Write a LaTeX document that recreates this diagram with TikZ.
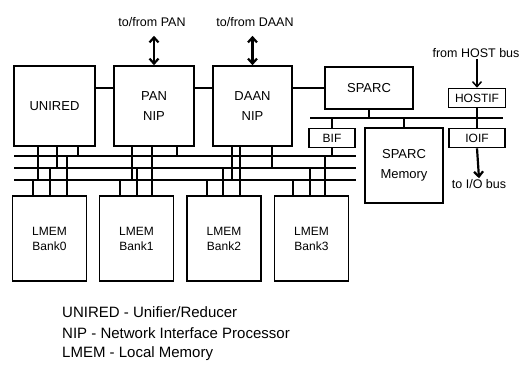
\documentclass[tikz,border=0pt]{standalone}
\usepackage{fontspec}
\setmainfont{Liberation Sans}
\usetikzlibrary{arrows.meta,positioning}

\begin{document}
\begin{tikzpicture}[x=1pt,y=-1pt,>={Straight Barb[length=5pt,width=9pt]}]
\tikzset{box/.style={draw,line width=1.6pt,inner sep=0pt,align=center,font=\fontsize{13}{20}\selectfont}, bank/.style={box,minimum width=74pt,minimum height=85pt,font=\fontsize{12}{15}\selectfont}, small/.style={box,minimum height=19pt,font=\fontsize{12}{14}\selectfont}, bus/.style={line width=2.8pt}, drop/.style={line width=1.5pt}, link/.style={line width=2.2pt}, lbl/.style={inner sep=1pt,font=\fontsize{12.5}{14}\selectfont}, legend/.style={inner sep=0pt,anchor=west,font=\fontsize{15}{17}\selectfont}}
\useasboundingbox (0,0) rectangle (521,365);
\node[box,minimum width=81pt,minimum height=80pt] (unired) at (54.5,106) {UNIRED};
\node[box,minimum width=80pt,minimum height=80pt] (pannip) at (154,106) {PAN\\NIP};
\node[box,minimum width=79pt,minimum height=80pt] (daannip) at (252.5,106) {DAAN\\NIP};
\node[box,minimum width=88pt,minimum height=42pt] (sparc) at (369,88) {SPARC};
\node[small,minimum width=57pt] (hostif) at (477,98) {HOSTIF};
\node[small,minimum width=46pt] (bif) at (332,138) {BIF};
\node[small,minimum width=56pt] (ioif) at (477,138) {IOIF};
\node[box,minimum width=78pt,minimum height=75pt] (sparcmem) at (404,165.5) {SPARC\\Memory};
\foreach \n/\x in {0/49.5,1/136.5,2/224,3/311.5}
  \node[bank] (lmem\n) at (\x,238.5) {LMEM\\Bank\n};
\node[lbl] (topan) at (152,22) {to/from PAN};
\node[lbl] (todaan) at (255,22) {to/from DAAN};
\node[lbl] (fromhost) at (476,53) {from HOST bus};
\node[lbl] (toio) at (479,184) {to I/O bus};
\draw[link,<->] (topan.south -| pannip.north) ++(0,8) -- (pannip.north);
\draw[link,<->] (todaan.south -| daannip.north) ++(0,8) -- (daannip.north);
\draw[drop,->] (fromhost.south -| hostif.north) -- (hostif.north);
\draw[link,->] (ioif.south) -- (toio.north);
\draw[link] (unired.east |- sparc.west) -- (pannip.west |- sparc.west);
\draw[link] (pannip.east |- sparc.west) -- (daannip.west |- sparc.west);
\draw[link] (daannip.east |- sparc.west) -- (sparc.west);
\coordinate (sbus) at (310,118);
\draw[bus] (sbus) -- (sbus -| 503,0);
\draw[drop] (sparc.south) -- (sparc.south |- sbus);
\draw[drop] (bif.north) -- (bif.north |- sbus);
\draw[drop] (sparcmem.north) -- (sparcmem.north |- sbus);
\draw[drop] (hostif.south) -- (ioif.north);
\coordinate (busA) at (14,156);
\coordinate (busB) at (14,168);
\coordinate (busC) at (14,180);
\foreach \b in {busA,busB,busC}
  \draw[bus] (\b) -- (\b -| bif.east);
\draw[drop] (bif.south) -- (bif.south |- busA);
\foreach \x/\b in {38/busC,57/busB,78/busA}
  \draw[drop] (\x,0 |- unired.south) -- (\x,0 |- \b);
\foreach \x/\b in {132/busC,152/busB,177/busA}
  \draw[drop] (\x,0 |- pannip.south) -- (\x,0 |- \b);
\foreach \x/\b in {232/busC,240/busA,272/busB}
  \draw[drop] (\x,0 |- daannip.south) -- (\x,0 |- \b);
\foreach \n/\xa/\xb/\xc in {0/33/50/67,1/120/137/152,2/207/223/240,3/293/310/325} {
  \draw[drop] (\xa,0 |- busC) -- (\xa,0 |- lmem\n.north);
  \draw[drop] (\xb,0 |- busB) -- (\xb,0 |- lmem\n.north);
  \draw[drop] (\xc,0 |- busA) -- (\xc,0 |- lmem\n.north);
}
\node[legend] (legu) at (62,312) {UNIRED - Unifier/Reducer};
\node[legend] (legn) at (62,333) {NIP - Network Interface Processor};
\node[legend] (legl) at (62,354) {LMEM - Local Memory};
\end{tikzpicture}
\end{document}
